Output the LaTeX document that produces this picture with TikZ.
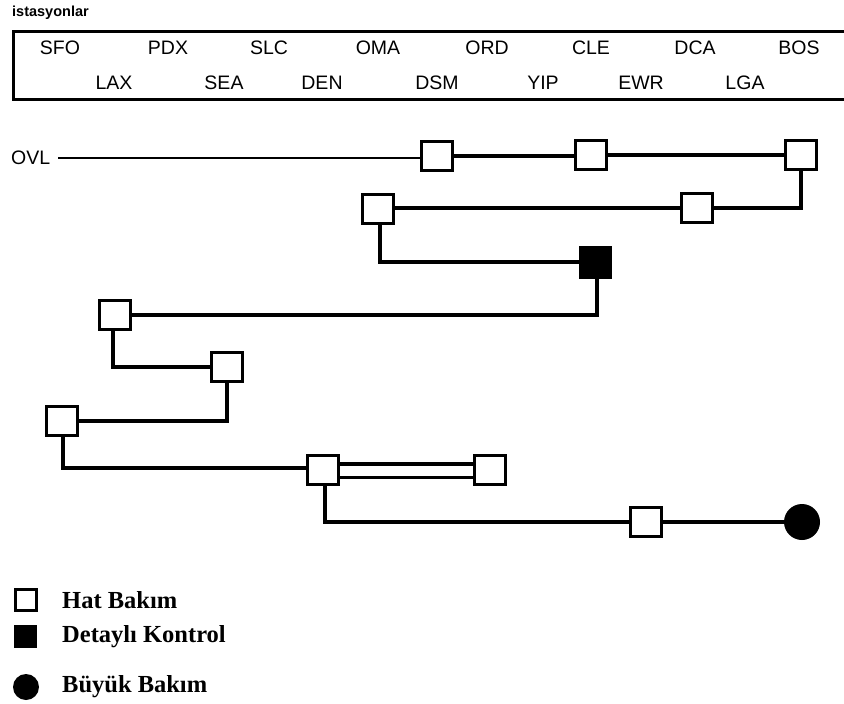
\documentclass[tikz,border=0pt]{standalone}
\usepackage{fontspec}
\setmainfont{Liberation Serif}
\newfontfamily\sansf{Liberation Sans}
\usetikzlibrary{positioning}
\begin{document}
\begin{tikzpicture}[x=1pt,y=-1pt,
  hat/.style={draw, line width=3.2pt, fill=white, minimum width=31pt, minimum height=29pt, inner sep=0pt},
  detay/.style={draw, line width=1pt, fill=black, minimum width=32pt, minimum height=32pt, inner sep=0pt},
  buyuk/.style={circle, fill=black, minimum size=36pt, inner sep=0pt},
  stn/.style={font=\sansf\fontsize{19.5}{19.5}\selectfont, inner sep=0pt},
  conn/.style={line width=3.2pt},
  legtxt/.style={font=\bfseries\fontsize{24.5}{24.5}\selectfont, anchor=west, inner sep=0pt}]
\useasboundingbox (0,0) rectangle (844,704);
% header
\node[font=\sansf\bfseries\fontsize{14.5}{14.5}\selectfont, anchor=west, inner sep=0pt] (title) at (12,13) {istasyonlar};
\draw[line width=3pt] (860,31) -- (13,31) -- (13,99) -- (860,99);
\node[stn] (SFO) at (60,48) {SFO};
\node[stn] (PDX) at (168,48) {PDX};
\node[stn] (SLC) at (269,48) {SLC};
\node[stn] (OMA) at (378,48) {OMA};
\node[stn] (ORD) at (487,48) {ORD};
\node[stn] (CLE) at (591,48) {CLE};
\node[stn] (DCA) at (695,48) {DCA};
\node[stn] (BOS) at (799,48) {BOS};
\node[stn] (LAX) at (114,83) {LAX};
\node[stn] (SEA) at (224,83) {SEA};
\node[stn] (DEN) at (322,83) {DEN};
\node[stn] (DSM) at (437,83) {DSM};
\node[stn] (YIP) at (543,83) {YIP};
\node[stn] (EWR) at (641,83) {EWR};
\node[stn] (LGA) at (745,83) {LGA};
% network
\node[stn, anchor=west] (OVL) at (11,158) {OVL};
\node[hat] (B1) at (437,156) {};
\node[hat] (B2) at (591,155) {};
\node[hat] (B3) at (801,155) {};
\node[hat] (B4) at (697,208) {};
\node[hat] (B5) at (378,209) {};
\node[detay] (F) at (595,262) {};
\node[hat, line width=2.4pt] (B6) at (115,315) {};
\node[hat, line width=2.4pt] (B7) at (227,367) {};
\node[hat, line width=2.4pt] (B8) at (62,421) {};
\node[hat] (B9) at (323,470) {};
\node[hat] (B10) at (490,470) {};
\node[hat] (B11) at (646,522) {};
\node[buyuk] (C) at (802,522) {};
\draw[line width=2pt] (OVL.east) ++(8,0) coordinate (ovs) -- (B1.west |- ovs);
\draw[line width=4pt] (B1.east) -- (B1.east -| B2.west);
\draw[conn] (B2.east) -- (B3.west);
\draw[conn] (B3.south) |- (B4.east);
\draw[conn] (B4.west) -- (B4.west -| B5.east);
\draw[conn] ([xshift=2pt]B5.south) |- (F.west);
\draw[conn] ([xshift=2pt]F.south) |- (B6.east);
\draw[conn] ([xshift=-2pt]B6.south) |- (B7.west);
\draw[conn] (B7.south) |- (B8.east);
\draw[conn] ([xshift=1pt]B8.south) |- ([yshift=2pt]B9.west);
\draw[line width=3pt] ([yshift=-7pt]B9.east) -- ([yshift=-7pt]B10.west);
\draw[line width=3.5pt] ([yshift=6pt]B9.east) -- ([yshift=6pt]B10.west);
\draw[conn] ([xshift=2pt,yshift=2pt]B9.south) |- (B11.west);
\draw[conn] (B11.east) -- (C.west);
% legend
\node[draw, line width=3pt, minimum size=21pt, inner sep=0pt] (L1) at (25.5,599.5) {};
\node[fill=black, minimum size=23pt, inner sep=0pt] (L2) at (25.5,636) {};
\node[circle, fill=black, minimum size=26pt, inner sep=0pt] (L3) at (26,687) {};
\node[legtxt] (T1) at (62,600) {Hat Bakım};
\node[legtxt] (T2) at (62,637) {Detaylı Kontrol};
\node[legtxt] (T3) at (62,687) {Büyük Bakım};
\end{tikzpicture}
\end{document}
